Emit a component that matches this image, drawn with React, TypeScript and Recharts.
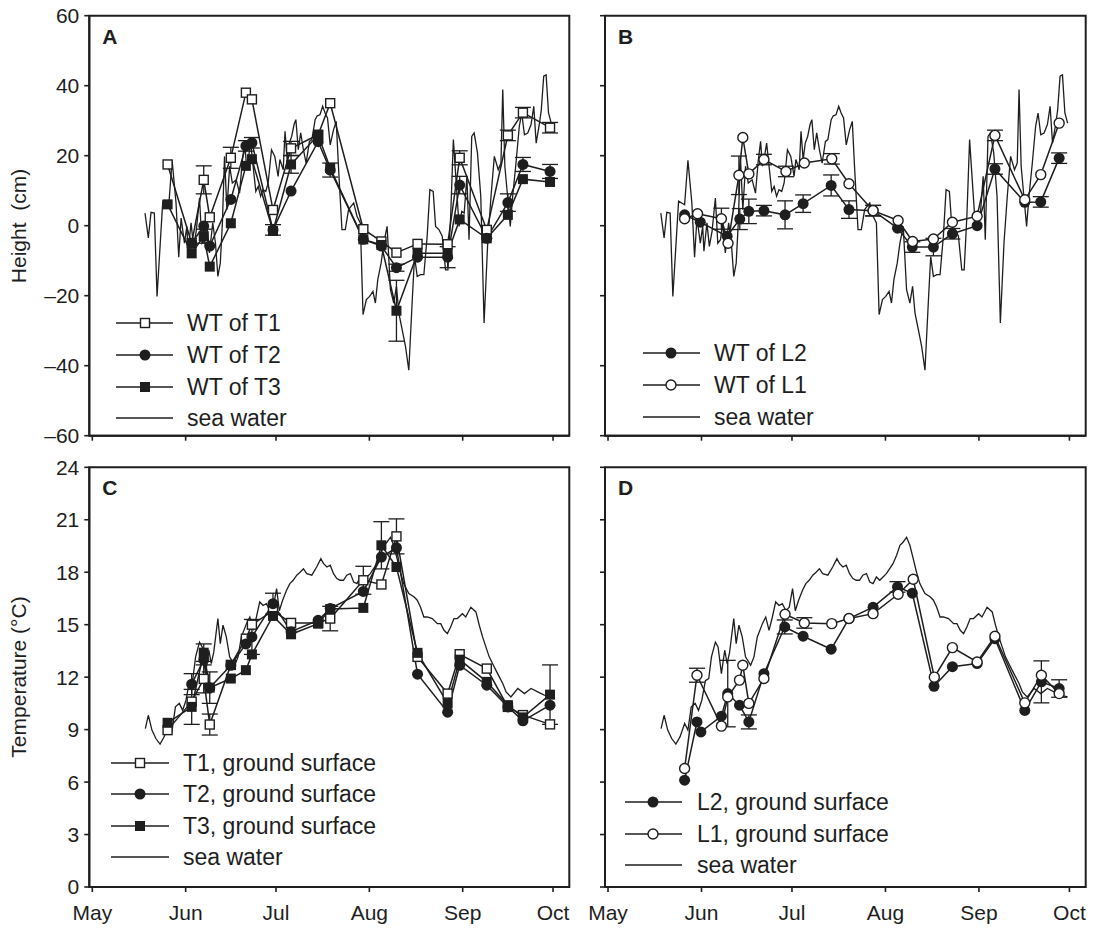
import React from 'react';
import { LineChart, Line, XAxis, YAxis, ErrorBar, ReferenceArea } from 'recharts';

const FONT = '"Liberation Sans", Arial, Helvetica, sans-serif';
const INK = '#1e1e1e';
const W = 1096;
const H = 928;
const Y_W = 60;
const X_H = 40;

// x values are days counted from May 1
const monthTicks = [0, 31, 61, 92, 123, 153];
const monthNames = ['May', 'Jun', 'Jul', 'Aug', 'Sep', 'Oct'];
const heightTicks = [-60, -40, -20, 0, 20, 40, 60];
const tempTicks = [0, 3, 6, 9, 12, 15, 18, 21, 24];

// sampling dates of the T plots (panels A and C)
const tDays = [25, 33, 37, 39, 46, 51, 53, 60, 66, 75, 79, 90, 96, 101, 108, 118, 122, 131, 138, 143, 152];

// panel A: water table height (cm)
const wtT1 = [17.5, -5, 13.1, 2.4, 19.4, 38.0, 36.1, 4.5, 22.1, 26, 35.0, -1.0, -4.5, -7.7, -5.2, -5.3, 19.4, -1.2, 25.8, 32.3, 28];
const wtT1Err = [0, 0, 4, 0, 3, 0, 0, 0, 2, 0, 0, 0, 0, 0, 0, 0, 2, 0, 1.5, 1.5, 1.5];
const wtT2 = [null, -5.0, -0.1, -5.8, 7.5, 22.8, 23.7, -1.2, 9.9, 24, 15.9, -3.9, -5.8, -12.0, -9.0, -9.0, 11.6, -3.6, 6.6, 17.5, 15.5];
const wtT2Err = [0, 0, 0, 0, 0, 1.5, 1.5, 1.5, 0, 0, 2, 0, 0, 1, 0, 3, 2.5, 0, 2.5, 2, 2];
const wtT3 = [6.1, -7.9, -3.0, -11.7, 0.7, 17.1, 19.0, -1.5, 17.5, 25.9, 16.5, -3.9, -5.5, -24.3, -7.9, -7.9, 1.8, -3.6, 3.1, 13.3, 12.5];
const wtT3Err = [0, 0, 2, 0, 0, 0, 0, 0, 2.5, 0, 0, 0, 0, 8.7, 0, 0, 0, 0, 0, 0, 0];

// panel B: water table height (cm)
const l2bDays = [25.4, 30.6, 39.5, 43.7, 46.7, 51.7, 58.7, 64.7, 74.0, 79.9, 87.9, 96.0, 100.9, 107.9, 114.2, 122.4, 128.3, 138.2, 143.5, 149.6];
const wtL2 = [3.1, 1.0, -3.0, 1.9, 4.1, 4.3, 3.1, 6.3, 11.5, 4.6, 4.3, -0.7, -6.1, -6.1, -2.3, 0.0, 16.2, 6.7, 6.8, 19.3];
const wtL2Err = [0, 0, 0, 3, 3.5, 1.5, 4, 2.5, 3, 2.5, 1.5, 0, 1.5, 2.5, 1.5, 0, 1.5, 0, 1.5, 1.5];
const l1bDays = [25.4, 29.7, 37.6, 39.8, 43.4, 44.7, 46.7, 51.7, 59.0, 65.1, 74.2, 79.9, 87.9, 96.2, 101.0, 107.9, 114.2, 122.4, 128.3, 138.2, 143.5, 149.6];
const wtL1 = [2.0, 3.4, 2.0, -5.0, 14.4, 25.2, 14.8, 18.9, 15.5, 17.9, 19.1, 12.0, 4.3, 1.5, -4.5, -3.8, 1.0, 2.7, 25.8, 7.4, 14.6, 29.3];
const wtL1Err = [0, 0, 3, 0, 5.5, 0, 0, 1.5, 1.5, 0, 1.5, 0, 1.5, 0, 0, 0, 0, 0, 1.5, 0, 0, 0];

// panel C: ground surface temperature (°C)
const gsT1 = [8.97, 10.6, 11.9, 9.29, 12.7, 14.2, 15.0, 15.8, 15.1, 15.1, 15.35, 17.54, 17.3, 20.05, 13.16, 11.06, 13.31, 12.49, 10.3, 9.83, 9.3];
const gsT1Err = [0, 0, 0.8, 0.6, 0, 0, 0, 0, 0, 0, 0.7, 0.8, 0, 1.0, 0, 0, 0, 0, 0, 0, 0];
const gsT2 = [null, 11.6, 13.0, 11.4, 12.68, 13.9, 14.3, 16.2, 14.6, 15.25, 15.92, 16.9, 18.87, 19.4, 12.17, 10.0, 12.68, 11.54, 10.3, 9.5, 10.4];
const gsT2Err = [0, 0.6, 0, 0.9, 0, 0, 1.0, 0.6, 0, 0, 0, 0, 0, 0, 0, 0, 0, 0, 0, 0, 0];
const gsT3 = [9.39, 10.3, 13.4, 11.4, 11.92, 12.4, 13.3, 15.5, 14.45, 15.06, 15.9, 15.96, 19.54, 18.3, 13.39, 10.5, 13.0, 11.73, 10.4, 9.7, 11.0];
const gsT3Err = [0, 1.0, 0.5, 0, 0, 0, 0, 0, 0, 0, 0, 0, 1.35, 0, 0, 0, 0, 0, 0, 0, 1.7];

// panel D: ground surface temperature (°C)
const l2dDays = [25.4, 29.5, 30.8, 37.6, 39.7, 43.6, 46.7, 51.7, 58.6, 64.7, 74.0, 79.9, 87.9, 96.0, 100.9, 108.1, 114.2, 122.4, 128.3, 138.2, 143.7, 149.6];
const gsL2 = [6.11, 9.44, 8.87, 9.77, 11.06, 10.4, 9.44, 12.2, 14.87, 14.34, 13.6, 15.35, 16.0, 17.16, 16.8, 11.48, 12.6, 12.78, 14.2, 10.1, 11.73, 11.35];
const gsL2Err = [0, 0, 0, 0, 1.9, 0, 0.4, 0, 0.4, 0, 0, 0, 0, 0.3, 0, 0, 0, 0, 0, 0, 1.2, 0.5];
const l1dDays = [25.4, 29.5, 37.6, 39.7, 43.6, 44.7, 46.7, 51.7, 58.7, 65.1, 74.2, 79.9, 87.9, 96.2, 101.2, 108.2, 114.2, 122.4, 128.3, 138.2, 143.7, 149.6];
const gsL1 = [6.78, 12.11, 9.2, 10.87, 11.83, 12.68, 10.5, 11.92, 15.6, 15.1, 15.06, 15.35, 15.63, 16.74, 17.6, 12.0, 13.69, 12.87, 14.34, 10.53, 12.11, 11.06];
const gsL1Err = [0, 0.4, 0, 0, 0, 0, 0, 0, 0, 0.3, 0, 0, 0, 0, 0, 0, 0, 0, 0, 0, 0, 0];

// sea water level (cm), [day, value]
const seaHeight: [number, number][] = [
  [17.5, 3.6], [18.6, -3.5], [19.5, 3.8], [20.6, 3.6], [21.5, -20.2], [23.4, 7.0], [25.4, 6.0], [26.5, 18.7],
  [27.8, 6.5], [28.7, -9.0], [29.5, 2.2], [30.6, -5.0], [31.4, -0.2], [31.8, -7.3], [32.8, 0.8], [33.6, -5.9],
  [34.5, -1.6], [35.6, 7.9], [36.4, -5.0], [37.3, -4.0], [38.0, 0.8], [38.9, -7.8], [40.0, 0.8], [40.9, -5.0],
  [41.7, -14.5], [42.5, -10.7], [43.2, 0.8], [43.9, 19.8], [44.7, 4.6], [45.6, 17.0], [46.5, 12.2], [47.8, 13.1],
  [48.9, 9.3], [49.8, 18.4], [50.6, 24.1], [51.2, 17.0], [51.9, 19.8], [52.6, 23.6], [53.4, 17.0], [54.3, 9.8],
  [55.1, 11.2], [55.9, 8.4], [56.7, 10.3], [57.6, 9.8], [58.4, 12.2], [59.5, 21.7], [60.6, 19.8], [61.7, 14.1],
  [62.3, 18.9], [63.4, 16.0], [64.0, 27.0], [64.7, 18.9], [65.4, 23.6], [66.2, 25.5], [67.0, 28.9], [67.6, 30.3],
  [68.4, 21.7], [69.2, 26.5], [70.1, 21.7], [71.0, 17.9], [72.1, 24.1], [72.9, 24.6], [74.0, 30.3], [74.7, 31.4],
  [75.6, 31.7], [76.5, 34.1], [77.3, 32.2], [78.1, 30.8], [79.0, 23.1], [80.1, 27.4], [81.0, 29.8], [81.8, 16.0],
  [82.9, -1.1], [84.0, -1.1], [85.1, 4.6], [86.8, 6.5], [87.9, 2.7], [89.0, 0.8], [89.9, -25.4], [91.0, -21.1],
  [92.1, -20.2], [93.2, -18.8], [94.0, -22.1], [94.8, -15.4], [95.9, -10.7], [96.8, -5.0], [97.9, -0.2], [99.0, -18.3],
  [100.1, -22.1], [101.0, -17.3], [101.8, -25.0], [102.9, -29.7], [104.0, -34.5], [105.1, -41.3], [106.2, -22.1], [107.0, -8.8],
  [107.9, -14.5], [109.0, -14.0], [110.1, -14.0], [111.2, -3.0], [112.1, 10.3], [113.2, 9.8], [114.0, -0.2], [115.1, -1.1],
  [116.2, -3.0], [117.3, -12.6], [118.1, -12.6], [119.0, 2.7], [119.9, 24.6], [120.7, 14.1], [121.8, -0.2], [122.7, 4.1],
  [123.5, 3.6], [124.4, 14.1], [125.1, -4.0], [126.0, 25.5], [126.8, 26.5], [127.9, 20.8], [129.0, 8.4], [130.1, -27.8],
  [131.3, -5.0], [132.4, 8.4], [133.5, 19.8], [134.8, 16.0], [135.7, 17.9], [136.3, 38.9], [137.0, 17.0], [137.9, 8.4],
  [138.8, -0.2], [139.6, 8.4], [140.7, 17.9], [141.8, 28.4], [142.6, 32.2], [143.5, 26.0], [144.6, 26.5], [145.7, 28.9],
  [146.6, 34.1], [147.4, 23.6], [148.5, 29.3], [149.1, 33.1], [149.9, 42.7], [150.7, 43.1], [151.5, 32.2], [152.4, 29.3],
];

// sea water temperature (°C), [day, value]
const seaTemp: [number, number][] = [
  [17.6, 9.06], [18.6, 9.82], [19.8, 8.97], [21.1, 8.49], [22.5, 8.17], [23.9, 8.6], [25.4, 9.35], [26.5, 8.97],
  [27.6, 10.3], [28.9, 10.5], [30.0, 10.1], [31.1, 10.68], [32.3, 11.8], [33.4, 11.92], [34.3, 13.16], [35.6, 14.0],
  [36.5, 13.73], [37.6, 12.2], [38.7, 13.54], [39.5, 12.78], [40.3, 13.4], [41.7, 15.35], [42.5, 13.92], [43.4, 14.97],
  [44.5, 14.3], [45.6, 13.16], [47.3, 12.68], [48.4, 13.16], [49.5, 14.3], [51.2, 15.06], [52.3, 15.44], [53.4, 14.68],
  [54.5, 15.44], [55.6, 16.3], [56.7, 16.1], [57.8, 16.2], [59.0, 15.8], [60.1, 16.0], [61.2, 17.06], [62.1, 15.8],
  [63.2, 16.4], [64.5, 16.97], [65.6, 17.35], [66.7, 17.54], [67.9, 17.83], [69.0, 18.0], [70.1, 18.2], [71.2, 17.92],
  [72.9, 17.83], [74.5, 18.3], [75.9, 18.78], [76.8, 18.49], [77.9, 18.3], [79.0, 18.4], [80.1, 17.92], [81.2, 17.64],
  [82.3, 17.54], [83.4, 17.54], [84.5, 17.83], [85.7, 17.92], [86.8, 17.44], [87.9, 17.35], [89.0, 17.73], [90.1, 17.54],
  [91.2, 17.73], [92.3, 17.92], [93.4, 18.2], [94.5, 18.49], [95.7, 18.97], [96.8, 19.54], [97.9, 19.73], [99.0, 20.0],
  [100.1, 19.54], [101.2, 18.78], [102.3, 18.0], [103.4, 17.35], [105.1, 16.78], [106.8, 16.6], [107.9, 16.4], [109.0, 16.0],
  [110.1, 15.44], [111.2, 15.44], [112.9, 15.35], [114.6, 15.06], [115.7, 15.06], [116.8, 14.68], [117.9, 14.49], [119.0, 14.87],
  [120.1, 15.35], [121.2, 15.35], [122.9, 15.63], [124.0, 15.44], [125.7, 16.0], [127.4, 15.73], [128.5, 14.97], [129.6, 14.3],
  [130.7, 13.73], [131.8, 13.16], [132.9, 12.78], [134.0, 12.4], [135.2, 12.0], [136.3, 11.64], [137.4, 11.16], [139.0, 10.87],
  [141.3, 11.35], [143.5, 11.06], [145.7, 11.35], [147.9, 11.16], [150.1, 10.97], [152.4, 10.87],
];

type Row = { day: number; v: number; e?: number };
type Marker = 'openSquare' | 'filledSquare' | 'filledCircle' | 'openCircle' | 'none';

const toRows = (days: number[], vals: (number | null)[], errs?: number[]): Row[] =>
  days.flatMap((d, i) => {
    const v = vals[i];
    if (v == null) return [];
    return [{ day: d, v, e: errs && errs[i] ? errs[i] : undefined }];
  });
const pairRows = (pairs: [number, number][]): Row[] => pairs.map(([day, v]) => ({ day, v }));

const drawMarker = (m: Marker, cx: number, cy: number, key?: string) => {
  switch (m) {
    case 'openSquare':
      return <rect key={key} x={cx - 4.5} y={cy - 4.5} width={9} height={9} fill="#fff" stroke={INK} strokeWidth={1.4} />;
    case 'filledSquare':
      return <rect key={key} x={cx - 5} y={cy - 5} width={10} height={10} fill={INK} />;
    case 'filledCircle':
      return <circle key={key} cx={cx} cy={cy} r={5.5} fill={INK} />;
    case 'openCircle':
      return <circle key={key} cx={cx} cy={cy} r={5} fill="#fff" stroke={INK} strokeWidth={1.4} />;
    default:
      return null;
  }
};

const dotFor = (m: Marker) => {
  if (m === 'none') return false;
  return (p: any) => (p.cx == null || p.cy == null ? <g key={`x${p.index}`} /> : drawMarker(m, p.cx, p.cy, `${m}${p.index}`));
};

interface Series {
  name: string;
  data: Row[];
  marker: Marker;
  width: number;
}

interface PanelCfg {
  letter: string;
  box: { x0: number; x1: number; y0: number; y1: number };
  yDomain: [number, number];
  yTicks: number[];
  showX: boolean;
  showY: boolean;
  series: Series[]; // drawing order
  legend: { lineX0: number; lineX1: number; markerX: number; textX: number; y0: number; step: number; items: Series[] };
}

const sea = (data: Row[]): Series => ({ name: 'sea water', data, marker: 'none', width: 1.3 });

const sA: Series[] = [
  { name: 'WT of T1', data: toRows(tDays, wtT1, wtT1Err), marker: 'openSquare', width: 1.5 },
  { name: 'WT of T2', data: toRows(tDays, wtT2, wtT2Err), marker: 'filledCircle', width: 1.5 },
  { name: 'WT of T3', data: toRows(tDays, wtT3, wtT3Err), marker: 'filledSquare', width: 1.5 },
  sea(pairRows(seaHeight)),
];
const sB: Series[] = [
  { name: 'WT of L2', data: toRows(l2bDays, wtL2, wtL2Err), marker: 'filledCircle', width: 1.5 },
  { name: 'WT of L1', data: toRows(l1bDays, wtL1, wtL1Err), marker: 'openCircle', width: 1.5 },
  sea(pairRows(seaHeight)),
];
const sC: Series[] = [
  { name: 'T1, ground surface', data: toRows(tDays, gsT1, gsT1Err), marker: 'openSquare', width: 1.5 },
  { name: 'T2, ground surface', data: toRows(tDays, gsT2, gsT2Err), marker: 'filledCircle', width: 1.5 },
  { name: 'T3, ground surface', data: toRows(tDays, gsT3, gsT3Err), marker: 'filledSquare', width: 1.5 },
  sea(pairRows(seaTemp)),
];
const sD: Series[] = [
  { name: 'L2, ground surface', data: toRows(l2dDays, gsL2, gsL2Err), marker: 'filledCircle', width: 1.5 },
  { name: 'L1, ground surface', data: toRows(l1dDays, gsL1, gsL1Err), marker: 'openCircle', width: 1.5 },
  sea(pairRows(seaTemp)),
];

const seaFirst = (s: Series[]) => [s[s.length - 1], ...s.slice(0, -1)];

const panels: PanelCfg[] = [
  {
    letter: 'A', box: { x0: 89.3, x1: 569.3, y0: 15.7, y1: 435.7 }, yDomain: [-60, 60], yTicks: heightTicks,
    showX: false, showY: true, series: seaFirst(sA),
    legend: { lineX0: 116, lineX1: 173, markerX: 145, textX: 187, y0: 323.3, step: 31.7, items: sA },
  },
  {
    letter: 'B', box: { x0: 605, x1: 1085.7, y0: 15.7, y1: 435.7 }, yDomain: [-60, 60], yTicks: heightTicks,
    showX: false, showY: false, series: seaFirst(sB),
    legend: { lineX0: 643, lineX1: 700, markerX: 671, textX: 714, y0: 353.3, step: 31.7, items: sB },
  },
  {
    letter: 'C', box: { x0: 89.3, x1: 569.3, y0: 467.3, y1: 887 }, yDomain: [0, 24], yTicks: tempTicks,
    showX: true, showY: true, series: seaFirst(sC),
    legend: { lineX0: 111, lineX1: 169, markerX: 140, textX: 183, y0: 762.7, step: 31.5, items: sC },
  },
  {
    letter: 'D', box: { x0: 605, x1: 1085.7, y0: 467.3, y1: 887 }, yDomain: [0, 24], yTicks: tempTicks,
    showX: true, showY: false, series: seaFirst(sD),
    legend: { lineX0: 625, lineX1: 682, markerX: 653, textX: 697, y0: 802.3, step: 31.3, items: sD },
  },
];

const X_DOMAIN: [number, number] = [-1, 158.4];
const fmtNum = (v: number) => (v < 0 ? `\u2013${Math.abs(v)}` : `${v}`);

function Panel({ cfg }: { cfg: PanelCfg }) {
  const { box, yDomain, yTicks, showX, showY, series, letter, legend } = cfg;
  const margin = { top: box.y0, left: box.x0 - Y_W, right: W - box.x1, bottom: H - box.y1 - X_H };
  const tickStyle = { fill: INK, fontSize: 21, fontFamily: FONT };
  return (
    <>
      <div style={{ position: 'absolute', left: 0, top: 0 }}>
        <LineChart width={W} height={H} margin={margin}>
          <XAxis
            dataKey="day"
            type="number"
            domain={X_DOMAIN}
            allowDataOverflow
            ticks={monthTicks}
            interval={0}
            tickFormatter={(v: number) => (showX ? monthNames[monthTicks.indexOf(v)] : '')}
            tick={tickStyle}
            tickSize={5}
            tickMargin={13}
            height={X_H}
            axisLine={{ stroke: INK, strokeWidth: 2 }}
            tickLine={{ stroke: INK, strokeWidth: 1.6 }}
          />
          <YAxis
            type="number"
            domain={yDomain}
            allowDataOverflow
            ticks={yTicks}
            interval={0}
            tickFormatter={(v: number) => (showY ? fmtNum(v) : '')}
            tick={tickStyle}
            tickSize={5}
            tickMargin={5}
            width={Y_W}
            axisLine={{ stroke: INK, strokeWidth: 2 }}
            tickLine={{ stroke: INK, strokeWidth: 1.6 }}
          />
          {series.map((s) => (
            <Line
              key={s.name}
              data={s.data}
              dataKey="v"
              type="linear"
              stroke={INK}
              strokeWidth={s.width}
              dot={dotFor(s.marker)}
              activeDot={false}
              isAnimationActive={false}
              legendType="none"
            >
              {s.data.some((r) => r.e) && (
                <ErrorBar dataKey="e" width={8} stroke={INK} strokeWidth={1.3} direction="y" />
              )}
            </Line>
          ))}
          <ReferenceArea
            x1={X_DOMAIN[0]}
            x2={X_DOMAIN[1]}
            y1={yDomain[0]}
            y2={yDomain[1]}
            fill="none"
            stroke={INK}
            strokeWidth={2}
            ifOverflow="visible"
          />
        </LineChart>
      </div>
      <div
        style={{
          position: 'absolute', left: box.x0 + 13, top: box.y0 + 10, fontSize: 21, fontWeight: 'bold',
          lineHeight: '22px', fontFamily: FONT,
        }}
      >
        {letter}
      </div>
      {legend.items.map((s, i) => {
        const y = legend.y0 + i * legend.step;
        return (
          <React.Fragment key={s.name}>
            <svg
              width={legend.lineX1 - legend.lineX0 + 2}
              height={20}
              style={{ position: 'absolute', left: legend.lineX0 - 1, top: y - 10 }}
            >
              <line x1={1} x2={legend.lineX1 - legend.lineX0 + 1} y1={10} y2={10} stroke={INK} strokeWidth={s.width} />
              {drawMarker(s.marker, legend.markerX - legend.lineX0 + 1, 10)}
            </svg>
            <div
              style={{
                position: 'absolute', left: legend.textX, top: y - 12, fontSize: 23, lineHeight: '24px',
                whiteSpace: 'nowrap', fontFamily: FONT,
              }}
            >
              {s.name}
            </div>
          </React.Fragment>
        );
      })}
    </>
  );
}

function AxisTitle({ x, y, text }: { x: number; y: number; text: string }) {
  return (
    <div
      style={{
        position: 'absolute', left: x, top: y, transform: 'translate(-50%, -50%) rotate(-90deg)',
        whiteSpace: 'pre', fontSize: 21, lineHeight: '22px', fontFamily: FONT,
      }}
    >
      {text}
    </div>
  );
}

export default function App() {
  return (
    <div
      style={{
        position: 'absolute', left: 0, top: 0, width: W, height: H, background: '#fff',
        color: INK, fontFamily: FONT, overflow: 'hidden',
      }}
    >
      {panels.map((p) => (
        <Panel key={p.letter} cfg={p} />
      ))}
      <AxisTitle x={19} y={225.7} text="Height  (cm)" />
      <AxisTitle x={19} y={677} text="Temperature (°C)" />
    </div>
  );
}
